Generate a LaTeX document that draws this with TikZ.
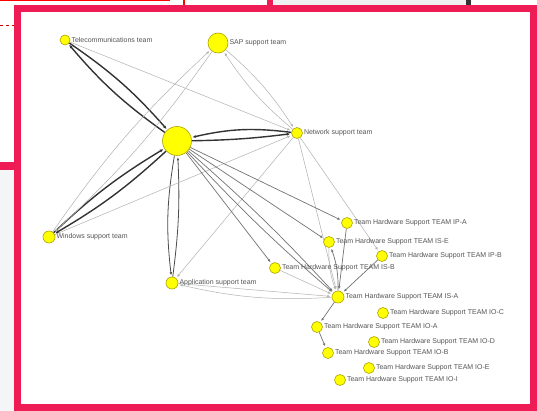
\documentclass[tikz,border=0pt]{standalone}
\usepackage{fontspec}
\setmainfont{Liberation Sans}
\usetikzlibrary{arrows.meta}
\definecolor{framecol}{HTML}{EE1B54}
\definecolor{nodefill}{HTML}{FFFF00}
\definecolor{nodedraw}{HTML}{ADA400}
\definecolor{labelgray}{HTML}{555555}
\definecolor{sidegray}{HTML}{F4F5F7}
\definecolor{bargray}{HTML}{EFF0F2}
\pgfdeclarelayer{back}
\pgfdeclarelayer{edges}
\pgfsetlayers{back,edges,main}
\tikzset{
  vert/.style={circle, fill=nodefill, draw=nodedraw, line width=0.6pt, inner sep=0pt, minimum size=#1},
  lbl/.style={font=\fontsize{7}{8}\selectfont, text=labelgray, inner sep=1pt},
  strong/.style={draw=black!80, line width=1.4pt, shorten >=1pt, -{Latex[length=3.5pt,width=3pt]}},
  medium/.style={draw=black!55, line width=0.7pt, shorten >=1.5pt, -{Latex[length=3pt,width=2.6pt]}},
  light/.style={draw=black!30, line width=0.5pt, shorten >=1.5pt, -{Latex[length=3pt,width=2.6pt]}},
}
\begin{document}
\begin{tikzpicture}[x=1pt,y=-1pt]
\useasboundingbox (0,0) rectangle (537,411);
\begin{pgfonlayer}{back}
\fill[white] (0,0) rectangle (537,411);
% surrounding page remnants
\fill[red] (0,0) rectangle (170,1.5);
\fill[red] (183,0) rectangle (184.5,5);
\draw[red!80!black, line width=0.5pt, dashed] (0,25.5) -- (14,25.5);
\fill[framecol] (267,0) rectangle (273,5);
\fill[bargray] (274,0) rectangle (466,5);
\fill[black!80] (466,0) rectangle (471,5);
\fill[framecol] (0,162) rectangle (14,170);
\fill[sidegray] (0,170) rectangle (14,411);
% frame
\draw[framecol, line width=7pt] (17.5,8.5) rectangle (533.5,407.5);
\end{pgfonlayer}

% nodes
\node[vert=29pt] (hub) at (177,141) {};
\node[vert=10pt, label={[lbl]right:Telecommunications team}] (tel) at (65,40) {};
\node[vert=20pt, label={[lbl]right:SAP support team}] (sap) at (218,43) {};
\node[vert=11pt, label={[lbl]right:Network support team}] (net) at (297,133) {};
\node[vert=12pt, label={[lbl]right:Windows support team}] (win) at (49,237) {};
\node[vert=12pt, label={[lbl]right:Application support team}] (app) at (172,283) {};
\node[vert=11pt, label={[lbl]right:Team Hardware Support TEAM IP-A}] (ipa) at (347,223) {};
\node[vert=11pt, label={[lbl]right:Team Hardware Support TEAM IS-E}] (ise) at (329,242) {};
\node[vert=11pt, label={[lbl]right:Team Hardware Support TEAM IP-B}] (ipb) at (382,256) {};
\node[vert=11pt, label={[lbl]right:Team Hardware Support TEAM IS-B}] (isb) at (275,268) {};
\node[vert=12pt, label={[lbl]right:Team Hardware Support TEAM IS-A}] (isa) at (338,297) {};
\node[vert=11pt, label={[lbl]right:Team Hardware Support TEAM IO-C}] (ioc) at (383,313) {};
\node[vert=11pt, label={[lbl]right:Team Hardware Support TEAM IO-A}] (ioa) at (317,327) {};
\node[vert=11pt, label={[lbl]right:Team Hardware Support TEAM IO-D}] (iod) at (374,342) {};
\node[vert=11pt, label={[lbl]right:Team Hardware Support TEAM IO-B}] (iob) at (328,353) {};
\node[vert=11pt, label={[lbl]right:Team Hardware Support TEAM IO-E}] (ioe) at (369,368) {};
\node[vert=11pt, label={[lbl]right:Team Hardware Support TEAM IO-I}] (ioi) at (340,380) {};

\begin{pgfonlayer}{edges}
% strong links
\draw[strong] (tel) to[bend left=7] (hub);
\draw[strong] (hub) to[bend left=7] (tel);
\draw[strong] (net) to[bend right=10] (hub);
\draw[strong] (hub) to[bend right=3] (net);
\draw[strong] (win) to[bend left=6] (hub);
\draw[strong] (hub) to[bend left=6] (win);
\draw[medium, draw=black!70, line width=0.8pt] (hub) to[bend right=8] (app);
\draw[medium, draw=black!70, line width=0.8pt] (app) to[bend right=5] (hub);
% light links
\draw[light] (tel) -- (net);
\draw[light] (sap) to[bend left=8] (net);
\draw[light] (net) to[bend left=8] (sap);
\draw[light] (win) to[bend left=6] (sap);
\draw[light] (sap) to[bend left=6] (win);
\draw[light] (win) -- (net);
\draw[light] (net) -- (app);
\draw[light] (net) -- (ipb);
\draw[light] (net) -- (isa);
% hub to cluster
\draw[medium] (hub) -- (ipa);
\draw[medium] (hub) -- (ise);
\draw[medium] (hub) -- (isb);
\draw[medium] (hub) to[bend left=3] (isa);
\draw[medium] (hub) to[bend right=3] (isa);
% cluster
\draw[medium] (ipa) -- (isa);
\draw[light] (ise) to[bend right=10] (isa);
\draw[medium] (isa) to[bend right=10] (ise);
\draw[medium] (ipb) -- (isa);
\draw[light] (isb) -- (isa);
\draw[light] (app) -- (isa);
\draw[light] (isa) to[bend left=8] (app);
\draw[medium] (isa) -- (ioa);
\draw[medium] (ioa) -- (iob);
\end{pgfonlayer}
\end{tikzpicture}
\end{document}
